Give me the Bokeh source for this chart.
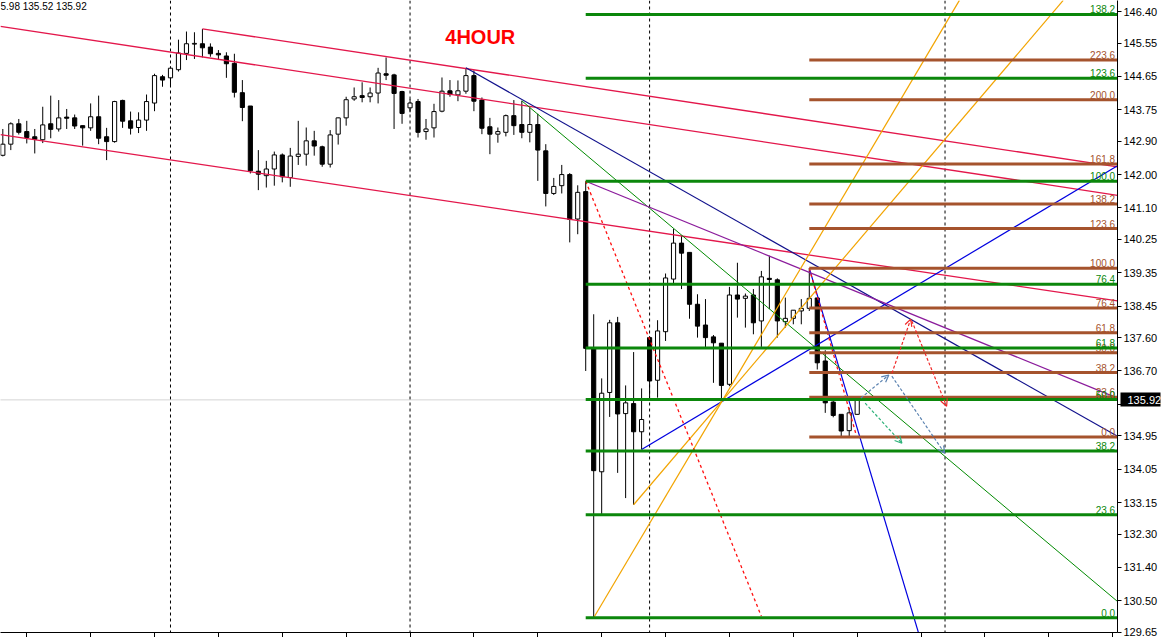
from bokeh.plotting import figure
from bokeh.models import (Range1d, FixedTicker, Span, Label, Arrow, OpenHead, LinearAxis,
                          ColumnDataSource, PrintfTickFormatter)
from bokeh.embed import file_html
from bokeh.resources import INLINE
from bokeh.core.properties import value

# ---------------- data (H4 candles) ----------------
opens = [142.52, 142.82, 143.37, 143.16, 143.02, 142.94, 143.37, 143.23, 143.55, 143.53,
         143.32, 143.26, 143.56, 143.02, 142.89, 144.00, 143.45, 143.27, 143.47, 143.93,
         144.64, 144.61, 144.83, 145.27, 145.52, 145.53, 145.44, 145.27, 145.20, 145.00,
         144.21, 143.85, 142.09, 141.97, 142.15, 142.53, 141.92, 142.49, 142.55, 142.91,
         142.75, 142.28, 143.09, 143.53, 144.04, 144.13, 144.10, 144.20, 144.72, 144.69,
         144.24, 143.80, 143.97, 143.16, 143.26, 143.71, 144.26, 144.15, 144.25, 144.67,
         144.01, 143.29, 143.09, 143.14, 143.59, 143.35, 143.14, 143.35, 142.64, 141.49,
         141.70, 142.00, 140.80, 141.54, 137.31, 133.98, 136.12, 138.00, 135.55, 135.82,
         135.06, 137.60, 136.45, 137.76, 139.18, 140.15, 139.90, 138.50, 137.94, 137.62,
         137.45, 136.34, 138.75, 138.66, 138.75, 138.05, 139.20, 139.16, 138.03, 138.12,
         138.32, 138.39, 138.67, 136.97, 135.86, 135.53, 135.09, 135.53]
highs = [143.23, 143.41, 143.50, 143.45, 143.23, 143.83, 144.13, 144.01, 143.77, 143.62,
         143.32, 143.92, 144.13, 143.26, 143.99, 144.02, 143.70, 143.68, 144.16, 144.72,
         144.69, 144.92, 145.64, 145.86, 145.84, 145.93, 145.54, 145.36, 145.30, 145.26,
         144.55, 143.85, 142.66, 142.37, 142.62, 142.57, 142.72, 143.45, 143.27, 143.18,
         142.78, 143.20, 143.54, 144.10, 144.35, 144.49, 144.35, 144.88, 145.16, 144.72,
         144.26, 144.04, 144.04, 143.50, 143.91, 144.62, 144.55, 144.54, 144.88, 144.81,
         144.08, 143.53, 143.27, 143.62, 144.01, 143.99, 143.81, 143.64, 142.82, 141.91,
         142.26, 142.04, 141.71, 141.82, 138.23, 136.50, 138.08, 138.16, 136.31, 137.21,
         136.23, 137.64, 138.07, 139.33, 140.53, 140.35, 139.90, 138.77, 138.64, 137.67,
         137.45, 138.97, 139.62, 138.79, 138.91, 139.40, 139.81, 139.20, 138.68, 138.34,
         138.64, 139.47, 138.67, 137.26, 135.98, 135.53, 135.71, 135.98]
lows = [142.49, 142.66, 143.08, 142.84, 142.57, 142.85, 142.98, 143.16, 143.23, 143.23,
        142.78, 143.18, 142.82, 142.39, 142.86, 143.26, 143.08, 143.12, 143.18, 143.71,
        144.37, 144.37, 144.78, 145.09, 145.12, 145.16, 145.18, 145.09, 144.61, 144.08,
        143.44, 142.03, 141.58, 141.65, 141.70, 141.79, 141.67, 142.26, 142.24, 142.51,
        142.21, 142.19, 142.81, 143.32, 143.99, 143.95, 143.95, 143.92, 144.55, 143.23,
        143.37, 143.68, 143.00, 142.94, 143.00, 143.68, 144.10, 143.98, 144.18, 143.71,
        143.09, 142.55, 142.86, 143.03, 143.07, 142.98, 142.87, 141.83, 141.14, 141.45,
        141.49, 140.17, 140.39, 136.70, 130.04, 132.82, 135.46, 133.95, 133.27, 133.09,
        134.58, 135.98, 135.98, 137.51, 139.02, 138.91, 138.11, 137.60, 137.33, 136.38,
        135.96, 136.29, 138.14, 137.87, 137.69, 137.35, 138.37, 137.60, 137.87, 137.96,
        137.96, 138.32, 136.74, 135.57, 135.45, 134.92, 134.93, 135.52]
closes = [142.82, 143.37, 143.14, 143.00, 142.95, 143.34, 143.22, 143.53, 143.52, 143.31,
          143.26, 143.56, 142.98, 142.89, 143.97, 143.44, 143.25, 143.47, 143.97, 144.67,
          144.55, 144.87, 145.28, 145.53, 145.54, 145.42, 145.26, 145.23, 144.99, 144.22,
          143.81, 142.10, 142.01, 142.15, 142.53, 141.94, 142.50, 142.55, 142.91, 142.77,
          142.28, 143.07, 143.53, 144.02, 144.10, 144.08, 144.20, 144.74, 144.68, 144.19,
          143.65, 143.93, 143.14, 143.23, 143.70, 144.25, 144.16, 144.26, 144.67, 143.98,
          143.25, 143.09, 143.16, 143.59, 143.32, 143.14, 143.35, 142.66, 141.49, 141.68,
          142.00, 140.79, 141.52, 137.31, 134.01, 136.10, 138.00, 135.54, 135.84, 135.06,
          135.39, 136.43, 137.78, 139.21, 140.15, 139.88, 138.50, 137.91, 137.60, 137.46,
          136.31, 138.75, 138.64, 138.72, 138.00, 139.24, 139.17, 138.05, 138.12, 138.34,
          138.39, 138.66, 136.92, 135.84, 135.50, 135.08, 135.57, 135.92]

price_ticks = [146.40, 145.55, 144.65, 143.75, 142.90, 142.00, 141.10, 140.25, 139.35, 138.45,
               137.60, 136.70, 135.80, 134.95, 134.05, 133.15, 132.30, 131.40, 130.50, 129.65]
time_ticks = list(range(3, 140, 8))
week_separators = [21, 51, 81, 118]
last_price = 135.92
header_text = "5.98 135.52 135.92"
chart_title = "4HOUR"

# drawn objects, anchored in (candle index, price)
channel_x0 = [-0.3, 25, -0.3]
channel_y0 = [146.00, 145.93, 143.08]
channel_x1 = [139.6, 139.6, 139.6]
channel_y1 = [141.44, 142.21, 138.59]

blue_x0 = [58, 101, 80]
blue_y0 = [144.88, 139.47, 134.58]
blue_x1 = [139.6, 114.7, 139.6]
blue_y1 = [134.94, 129.62, 142.24]
blue_colors = ["#10108C", "#0000E0", "#0000E0"]

green_trend = ([65, 139.6], [143.99, 130.48])
purple_trend = ([73, 139.6], [141.82, 135.97])

orange_x0 = [74, 79]
orange_y0 = [130.04, 133.09]
orange_x1 = [119.8, 132.8]
orange_y1 = [146.70, 146.70]

red_dash_x0 = [73, 101]
red_dash_y0 = [141.82, 139.47]
red_dash_x1 = [95, 106.8]
red_dash_y1 = [130.08, 135.03]

arrow_x0 = [111.35, 113.84, 107.46, 111.34, 108.0]
arrow_y0 = [136.64, 138.05, 135.97, 136.56, 135.83]
arrow_x1 = [113.71, 118.2, 110.96, 117.96, 112.6]
arrow_y1 = [138.10, 135.75, 136.59, 134.48, 134.75]
arrow_colors = ["#F02828", "#F02828", "#5A82B0", "#5A82B0", "#2EB27A"]

green_fib_levels = [0.0, 23.6, 38.2, 50.0, 61.8, 76.4, 100.0, 123.6, 138.2]
green_fib_low, green_fib_high, green_fib_start = 130.04, 141.82, 73
brown_fib_levels = [0.0, 23.6, 38.2, 50.0, 61.8, 76.4, 100.0, 123.6, 138.2, 161.8, 200.0, 223.6]
brown_fib_low, brown_fib_high, brown_fib_start = 134.92, 139.47, 101

# ---------------- figure ----------------
X_LO, X_HI = -0.29, 139.6
p = figure(width=1164, height=637, x_range=Range1d(X_LO, X_HI),
           y_range=Range1d(129.643, 146.697), y_axis_location="right",
           output_backend="svg", toolbar_location=None,
           min_border_left=0, min_border_top=0, min_border_bottom=0, min_border_right=0)
p.outline_line_color = None
p.grid.visible = False
p.background_fill_color = "white"
p.border_fill_color = "white"

ya = p.yaxis[0]
ya.ticker = FixedTicker(ticks=price_ticks)
ya.formatter = PrintfTickFormatter(format="%.2f")
ya.major_label_overrides = {135.8: ""}
ya.major_label_text_font = "Liberation Sans"
ya.major_label_text_font_size = "11px"
ya.major_label_text_color = "black"
ya.major_tick_out = 4
ya.major_tick_in = 0
ya.minor_tick_out = 0
ya.minor_tick_in = 0
ya.major_label_standoff = 2
ya.axis_line_color = "black"

# current-price marker: an outer right axis whose single wide tick reaches back
# over the price scale, with its label drawn on top in white
price_axis = LinearAxis(ticker=FixedTicker(ticks=[last_price]),
                        formatter=PrintfTickFormatter(format="%.2f"),
                        axis_line_color=None,
                        major_tick_out=0, major_tick_in=40, major_tick_line_width=14,
                        major_tick_line_color="black", minor_tick_out=0, minor_tick_in=0,
                        major_label_standoff=-33, major_label_text_color="white",
                        major_label_text_font="Liberation Sans",
                        major_label_text_font_size="11px")
p.add_layout(price_axis, "right")

xa = p.xaxis[0]
xa.ticker = FixedTicker(ticks=time_ticks)
xa.major_label_overrides = {t: "" for t in time_ticks}
xa.major_label_text_font_size = "1px"
xa.major_label_standoff = 0
xa.major_tick_out = 5
xa.major_tick_in = 0
xa.minor_tick_out = 0
xa.minor_tick_in = 0
xa.axis_line_color = "black"

# background guides
for s in week_separators:
    p.add_layout(Span(location=s, dimension="height", line_color="black",
                      line_dash="3 3", line_width=1, level="underlay"))
p.add_layout(Span(location=last_price, dimension="width", line_color="#A8A8A8",
                  line_dash="1 1", line_width=1, level="underlay"))

# candles
idx = list(range(len(opens)))
bull = [c >= o for o, c in zip(opens, closes)]
src = ColumnDataSource(dict(
    x=idx, o=opens, h=highs, l=lows, c=closes,
    top=[max(o, c) for o, c in zip(opens, closes)],
    bot=[min(o, c) for o, c in zip(opens, closes)],
    fill=["white" if b else "black" for b in bull]))
p.segment(x0="x", y0="l", x1="x", y1="h", source=src, line_color="black", line_width=1)
p.vbar(x="x", top="top", bottom="bot", width=0.52, source=src,
       fill_color="fill", line_color="black", line_width=1)

# channel
p.segment(channel_x0, channel_y0, channel_x1, channel_y1, line_color="#E3174B", line_width=1.3)
# blue trend lines
p.segment(blue_x0, blue_y0, blue_x1, blue_y1, line_color=blue_colors, line_width=1.2)
# green / purple
p.line(green_trend[0], green_trend[1], line_color="#008A00", line_width=1)
p.line(purple_trend[0], purple_trend[1], line_color="#8B1C9C", line_width=1.3)
# orange fans
p.segment(orange_x0, orange_y0, orange_x1, orange_y1, line_color="#F2A400", line_width=1.2)
# red dashed
p.segment(red_dash_x0, red_dash_y0, red_dash_x1, red_dash_y1, line_color="#FF1010",
          line_width=1.3, line_dash="3 3")

# fibonacci levels
def fib(levels, lo, hi, start, color):
    prices = [lo + lv / 100.0 * (hi - lo) for lv in levels]
    p.segment([start] * len(levels), prices, [X_HI] * len(levels), prices,
              line_color=color, line_width=3)
    p.text([X_HI - 0.3] * len(levels), prices, text=["%.1f" % lv for lv in levels],
           text_align="right", text_baseline="bottom", y_offset=-1,
           text_font=value("Liberation Sans"), text_font_size="10px", text_color=color)

fib(brown_fib_levels, brown_fib_low, brown_fib_high, brown_fib_start, "#A5532D")
fib(green_fib_levels, green_fib_low, green_fib_high, green_fib_start, "#0B870B")

# projection arrows
for x0, y0, x1, y1, col in zip(arrow_x0, arrow_y0, arrow_x1, arrow_y1, arrow_colors):
    p.add_layout(Arrow(end=OpenHead(size=7, line_color=col, line_width=1.2),
                       x_start=x0, y_start=y0, x_end=x1, y_end=y1,
                       line_color=col, line_width=1.2, line_dash="3 2"))

# texts
p.add_layout(Label(x=59.8, y=145.70, text=chart_title, text_align="center",
                   text_baseline="middle", text_font="Liberation Sans",
                   text_font_style="bold", text_font_size="20px", text_color="#FF0000"))
p.add_layout(Label(x=X_LO, y=146.697, text=header_text, text_align="left",
                   text_baseline="top", text_font="Liberation Sans",
                   text_font_size="10px", text_color="black"))

open("out.html", "w").write(file_html(p, INLINE))
